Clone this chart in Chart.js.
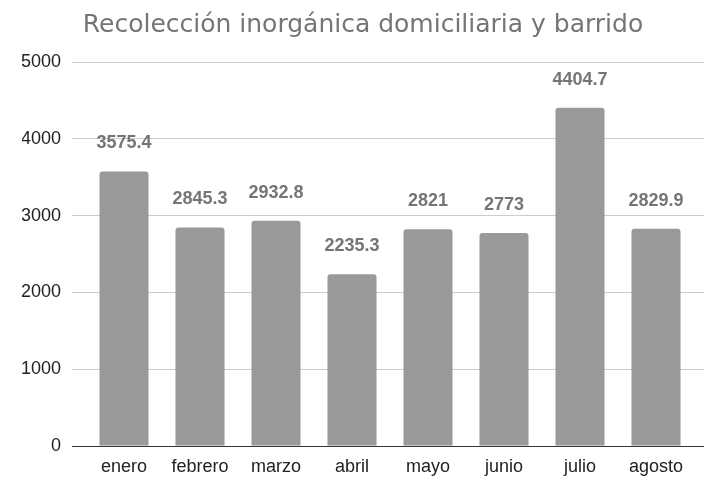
<!DOCTYPE html>
<html>
<head>
<meta charset="utf-8">
<script src="https://cdn.jsdelivr.net/npm/chart.js@4/dist/chart.umd.min.js"></script>
<style>
  html, body { margin: 0; padding: 0; background: #ffffff; }
  #wrap { width: 704px; height: 477px; }
</style>
</head>
<body>
<div id="wrap"><canvas id="chart"></canvas></div>
<script>
const chartTitle = "Recolección inorgánica domiciliaria y barrido";
const months = ["enero", "febrero", "marzo", "abril", "mayo", "junio", "julio", "agosto"];
const values = [3575.4, 2845.3, 2932.8, 2235.3, 2821, 2773, 4404.7, 2829.9];
const yTicks = [0, 1000, 2000, 3000, 4000, 5000];

// draws the value above each bar (no datalabels plugin available offline)
const valueLabels = {
  id: "valueLabels",
  afterDatasetsDraw(chart) {
    const ctx = chart.ctx;
    const meta = chart.getDatasetMeta(0);
    ctx.save();
    ctx.font = "bold 18px 'Liberation Sans', Arial, sans-serif";
    ctx.fillStyle = "#757575";
    ctx.textAlign = "center";
    ctx.textBaseline = "middle";
    meta.data.forEach((bar, i) => {
      ctx.fillText(String(values[i]), bar.x, bar.y - 28);
    });
    ctx.restore();
  },
};

const gridColor = (c) => (c.tick && c.tick.value === 0 ? "#333333" : "#cccccc");
const tickFont = { family: "'Liberation Sans', Arial, sans-serif", size: 18 };

new Chart(document.getElementById("chart").getContext("2d"), {
  type: "bar",
  data: {
    labels: months,
    datasets: [
      {
        data: values,
        backgroundColor: "#999999",
        borderWidth: 0,
        borderRadius: 3,
        borderSkipped: "bottom",
        categoryPercentage: 0.645,
        barPercentage: 1,
      },
    ],
  },
  options: {
    responsive: true,
    maintainAspectRatio: false,
    animation: false,
    layout: { padding: { top: 8, left: 22, right: 0, bottom: 0 } },
    plugins: {
      legend: { display: false },
      tooltip: { enabled: false },
      title: {
        display: true,
        text: chartTitle,
        color: "#757575",
        font: { family: "'DejaVu Sans', sans-serif", size: 25, weight: "normal" },
        padding: { top: 2, bottom: 22 },
      },
    },
    scales: {
      x: {
        grid: { display: false },
        border: { display: false },
        ticks: { color: "#222222", font: tickFont, padding: 2 },
        afterFit: (axis) => {
          axis.height = 31;
        },
      },
      y: {
        min: 0,
        max: 5000,
        afterBuildTicks: (axis) => {
          axis.ticks = yTicks.map((v) => ({ value: v }));
        },
        afterFit: (axis) => {
          axis.width = 64;
        },
        border: { display: false },
        grid: { color: gridColor, lineWidth: 1, tickLength: 14 },
        ticks: {
          color: "#222222",
          font: tickFont,
          padding: 11,
          callback: (v) => String(v),
        },
      },
      y2: {
        position: "right",
        min: 0,
        max: 5000,
        afterBuildTicks: (axis) => {
          axis.ticks = yTicks.map((v) => ({ value: v }));
        },
        afterFit: (axis) => {
          axis.width = 10;
        },
        border: { display: false },
        grid: { color: gridColor, drawOnChartArea: false, tickLength: 10 },
        ticks: { display: false },
      },
    },
  },
  plugins: [valueLabels],
});
</script>
</body>
</html>
